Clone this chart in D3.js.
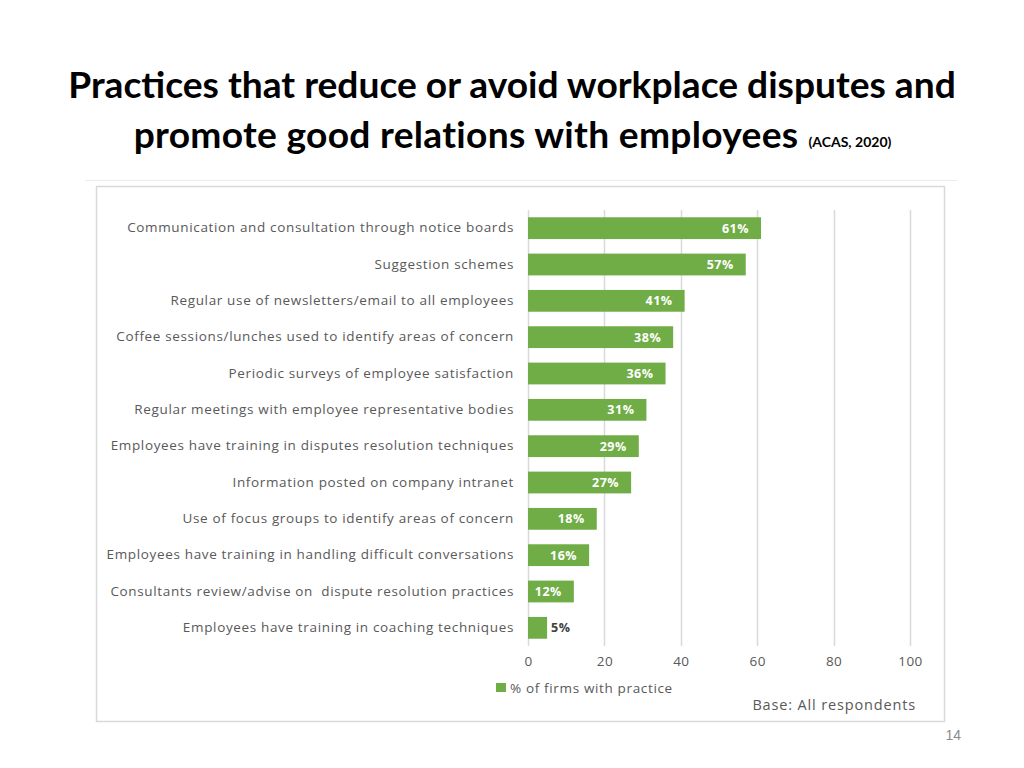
<!DOCTYPE html>
<html>
<head>
<meta charset="utf-8">
<script src="https://cdn.jsdelivr.net/npm/d3@7"></script>
<style>
  html, body { margin: 0; padding: 0; background: #ffffff; }
  svg { display: block; }
  text { white-space: pre; }
</style>
</head>
<body>
<svg id="chart" width="1024" height="768"></svg>
<script>
const categories = [
  "Communication and consultation through notice boards",
  "Suggestion schemes",
  "Regular use of newsletters/email to all employees",
  "Coffee sessions/lunches used to identify areas of concern",
  "Periodic surveys of employee satisfaction",
  "Regular meetings with employee representative bodies",
  "Employees have training in disputes resolution techniques",
  "Information posted on company intranet",
  "Use of focus groups to identify areas of concern",
  "Employees have training in handling difficult conversations",
  "Consultants review/advise on  dispute resolution practices",
  "Employees have training in coaching techniques"
];
const values = [61, 57, 41, 38, 36, 31, 29, 27, 18, 16, 12, 5];
const xTicks = [0, 20, 40, 60, 80, 100];
const seriesName = "% of firms with practice";
const titleLine1 = "Practices that reduce or avoid workplace disputes and";
const titleLine2 = "promote good relations with employees";
const titleSource = "(ACAS, 2020)";
const baseNote = "Base: All respondents";
const pageNumber = "14";

const svg = d3.select("#chart");
const green = "#70ad47";
const textGray = "#595959";
const labelFont = "'Open Sans', 'Noto Sans', sans-serif";
const titleFont = "Lato, 'Open Sans', sans-serif";

// Title: size chosen so that line 1 spans the reference width
const t1 = svg.append("text")
  .attr("x", 512).attr("y", 98)
  .attr("text-anchor", "middle")
  .style("font-family", titleFont).style("font-weight", "bold")
  .style("font-size", "40px").attr("fill", "#000")
  .text(titleLine1);
const w1 = t1.node().getComputedTextLength();
const fs = 40 * 888 / w1;
t1.style("font-size", fs + "px");

const t2 = svg.append("text")
  .attr("y", 148)
  .style("font-family", titleFont).style("font-weight", "bold")
  .style("font-size", fs + "px").style("letter-spacing", "0.3px").attr("fill", "#000")
  .text(titleLine2);
const t3 = svg.append("text")
  .attr("y", 147)
  .style("font-family", titleFont).style("font-weight", "bold")
  .style("font-size", "14px").attr("fill", "#000")
  .text(titleSource);
const w2 = t2.node().getComputedTextLength();
const w3 = t3.node().getComputedTextLength();
const gap = 10;
const start2 = 512.5 - (w2 + gap + w3) / 2;
t2.attr("x", start2);
t3.attr("x", start2 + w2 + gap);

// faint separator line
svg.append("line")
  .attr("x1", 85).attr("x2", 957).attr("y1", 180.5).attr("y2", 180.5)
  .attr("stroke", "#ececec").attr("stroke-width", 1);

// chart frame
svg.append("rect")
  .attr("x", 96.5).attr("y", 186.5).attr("width", 848).attr("height", 535)
  .attr("fill", "#fff").attr("stroke", "#d9d9d9").attr("stroke-width", 1.5);

// scales
const x = d3.scaleLinear().domain([0, 100]).range([528, 910]);
const y = d3.scaleBand().domain(categories).range([210, 646]).paddingInner(0.4).paddingOuter(0.2);

// grid lines
svg.append("g").selectAll("line").data(xTicks).join("line")
  .attr("x1", d => Math.round(x(d)) + 0.5).attr("x2", d => Math.round(x(d)) + 0.5)
  .attr("y1", 210).attr("y2", 646)
  .attr("stroke", "#d9d9d9").attr("stroke-width", 1.5);

// x axis labels
const xAxis = d3.axisBottom(x).tickValues(xTicks).tickSize(0).tickPadding(0);
const gx = svg.append("g").attr("transform", "translate(0,656)").call(xAxis);
gx.select(".domain").remove();
gx.selectAll("text")
  .style("font-family", labelFont).style("font-size", "13.5px")
  .style("letter-spacing", "0.4px")
  .attr("fill", textGray).attr("dy", "0.71em");

// y axis labels
const yAxis = d3.axisLeft(y).tickSize(0).tickPadding(14);
const gy = svg.append("g").attr("transform", `translate(${x(0)},0)`).call(yAxis);
gy.select(".domain").remove();
gy.selectAll("text")
  .style("font-family", labelFont).style("font-size", "13.5px")
  .style("letter-spacing", "0.65px")
  .attr("fill", textGray);

// bars
const data = categories.map((c, i) => ({ c, v: values[i] }));
svg.append("g").selectAll("rect").data(data).join("rect")
  .attr("x", x(0)).attr("y", d => y(d.c))
  .attr("width", d => x(d.v) - x(0)).attr("height", y.bandwidth())
  .attr("fill", green);

// value labels
svg.append("g").selectAll("text").data(data).join("text")
  .attr("x", d => d.v >= 10 ? x(d.v) - 12 : x(d.v) + 4)
  .attr("y", d => y(d.c) + y.bandwidth() / 2)
  .attr("dy", "0.35em")
  .attr("text-anchor", d => d.v >= 10 ? "end" : "start")
  .style("font-family", labelFont).style("font-weight", "bold").style("font-size", "12.5px")
  .style("letter-spacing", "0.5px")
  .attr("fill", d => d.v >= 10 ? "#ffffff" : "#404040")
  .text(d => d.v + "%");

// legend
svg.append("rect").attr("x", 496).attr("y", 683).attr("width", 10).attr("height", 9).attr("fill", green);
svg.append("text").attr("x", 510).attr("y", 688).attr("dy", "0.35em")
  .style("font-family", labelFont).style("font-size", "13.5px").style("letter-spacing", "0.65px")
  .attr("fill", textGray)
  .text(seriesName);

// base note
svg.append("text").attr("x", 916).attr("y", 705).attr("dy", "0.35em")
  .attr("text-anchor", "end")
  .style("font-family", labelFont).style("font-size", "14.5px").style("letter-spacing", "0.85px")
  .attr("fill", textGray)
  .text(baseNote);

// page number
svg.append("text").attr("x", 961).attr("y", 735).attr("dy", "0.35em")
  .attr("text-anchor", "end")
  .style("font-family", "'Liberation Sans', sans-serif").style("font-size", "14px").attr("fill", "#8c8c8c")
  .text(pageNumber);
</script>
</body>
</html>
